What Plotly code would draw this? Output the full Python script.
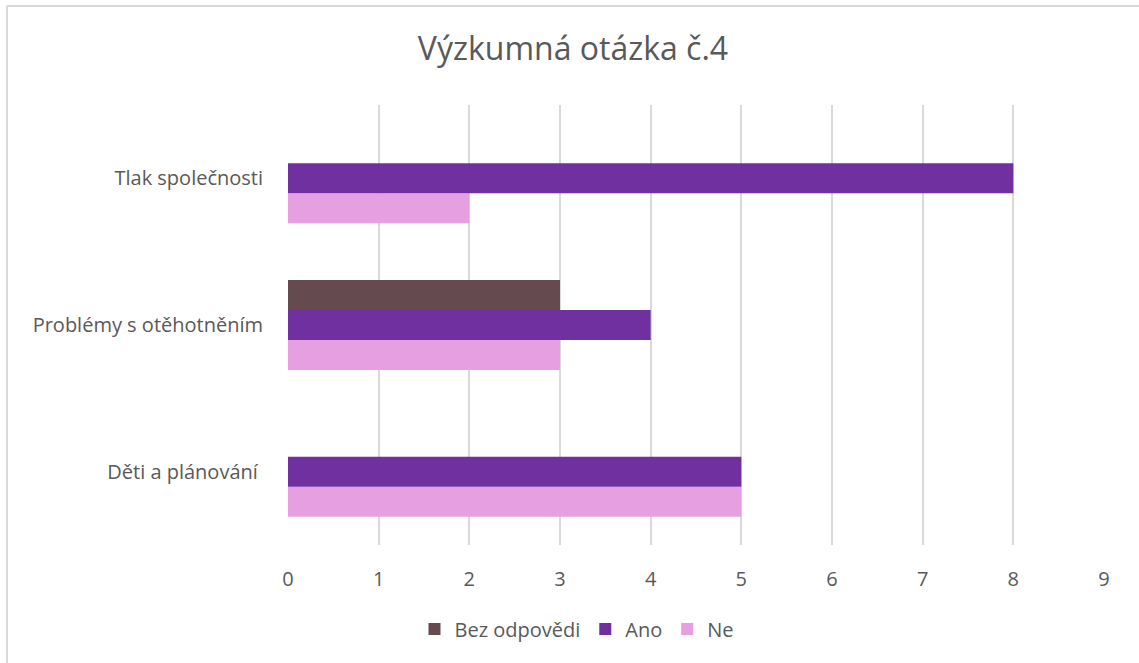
import plotly.graph_objects as go

categories = ["Děti a plánování ", "Problémy s otěhotněním", "Tlak společnosti"]
bez_odpovedi = [0, 3, 0]
ano = [5, 4, 8]
ne = [5, 3, 2]
x_ticks = [0, 1, 2, 3, 4, 5, 6, 7, 8, 9]

W, H = 1139, 663
L, R, T, B = 288, 35, 105, 118
pw, ph = W - L - R, H - T - B

fig = go.Figure()
fig.add_trace(go.Bar(name="Ne", y=categories, x=ne, orientation="h",
                     marker=dict(color="#E6A0E2", line=dict(width=0)), legendrank=3))
fig.add_trace(go.Bar(name="Ano", y=categories, x=ano, orientation="h",
                     marker=dict(color="#7030A0", line=dict(width=0)), legendrank=2))
fig.add_trace(go.Bar(name="Bez odpovědi", y=categories, x=bez_odpovedi, orientation="h",
                     marker=dict(color="#654A4F", line=dict(width=0)), legendrank=1))

font_family = "Open Sans, Noto Sans, sans-serif"
fig.update_layout(
    width=W, height=H,
    margin=dict(l=L, r=R, t=T, b=B, autoexpand=False),
    paper_bgcolor="white", plot_bgcolor="white",
    barmode="group", bargap=0.386, bargroupgap=0,
    title=dict(text="Výzkumná otázka č.4", x=(573 / W), xref="container", xanchor="center",
               y=1 - 49 / H, yref="container", yanchor="middle",
               font=dict(family=font_family, size=32, color="#595959")),
    font=dict(family=font_family, color="#595959", size=20),
    legend=dict(orientation="h", x=(577 / W), xref="container", xanchor="center",
                y=1 - 629 / H, yref="container", yanchor="middle",
                font=dict(size=20, color="#595959"), itemwidth=30, traceorder="normal"),
    showlegend=True,
)
fig.update_xaxes(range=[0, 9], tickvals=x_ticks, showgrid=True, gridcolor="#D9D9D9", gridwidth=1.5,
                 zeroline=False, showline=False, ticks="", ticklabelstandoff=20,
                 tickfont=dict(size=20, color="#595959"), automargin=False)
fig.update_yaxes(showgrid=False, showline=False, ticks="", ticklabelstandoff=24,
                 tickfont=dict(size=20, color="#595959"), automargin=False)

# outer chart border (left and top visible)
x_left = (7 - L) / pw
y_top = 1 + (T - 6) / ph
fig.add_shape(type="line", xref="paper", yref="paper", x0=x_left, x1=(W - L) / pw + 0.01,
              y0=y_top, y1=y_top, line=dict(color="#D9D9D9", width=2))
fig.add_shape(type="line", xref="paper", yref="paper", x0=x_left, x1=x_left,
              y0=y_top, y1=-(B + 5) / ph, line=dict(color="#D9D9D9", width=2))

fig.write_html("out.html", config={"displayModeBar": False},
               post_script="document.body.style.margin='0px';")
